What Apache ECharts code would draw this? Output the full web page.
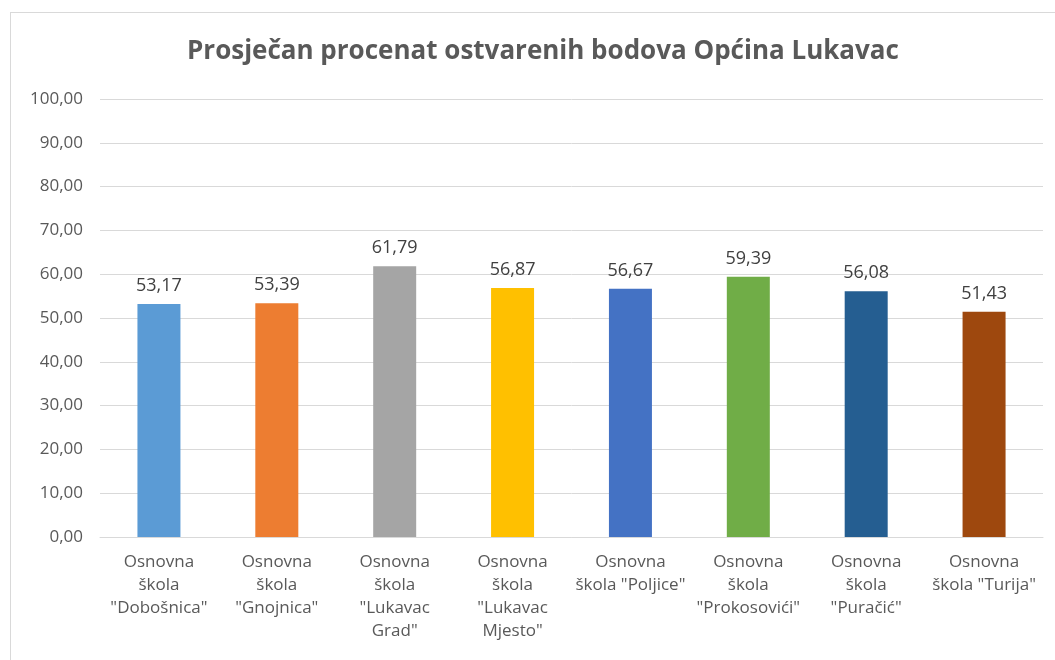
<!DOCTYPE html>
<html>
<head>
<meta charset="utf-8">
<script src="https://cdn.jsdelivr.net/npm/echarts@6/dist/echarts.min.js"></script>
<style>
  html, body { margin: 0; padding: 0; background: #fff; overflow: hidden; }
  #frame {
    position: absolute; left: 10px; top: 12px;
    width: 1200px; height: 800px;
    border: 1px solid #d9d9d9; box-sizing: border-box;
  }
  #chart { position: absolute; left: 0; top: 0; width: 1055px; height: 660px; }
</style>
</head>
<body>
<div id="frame"></div>
<div id="chart"></div>
<script>
// podaci
const schools = [
  'Osnovna\nškola\n"Dobošnica"',
  'Osnovna\nškola\n"Gnojnica"',
  'Osnovna\nškola\n"Lukavac\nGrad"',
  'Osnovna\nškola\n"Lukavac\nMjesto"',
  'Osnovna\nškola "Poljice"',
  'Osnovna\nškola\n"Prokosovići"',
  'Osnovna\nškola\n"Puračić"',
  'Osnovna\nškola "Turija"'
];
const scores = [53.17, 53.39, 61.79, 56.87, 56.67, 59.39, 56.08, 51.43];
const barColors = ['#5B9BD5', '#ED7D31', '#A5A5A5', '#FFC000', '#4472C4', '#70AD47', '#255E91', '#9E480E'];

const fmt = v => v.toFixed(2).replace('.', ',');

let myChart = echarts.init(document.getElementById('chart'));
let option = {
  textStyle: { fontFamily: '"Open Sans", sans-serif' },
  title: {
    text: 'Prosječan procenat ostvarenih bodova Općina Lukavac',
    left: 182,
    top: 34,
    textStyle: { fontSize: 26, fontWeight: 'bold', color: '#595959', fontFamily: '"Open Sans", sans-serif' }
  },
  grid: { left: 100, right: 12, top: 99, bottom: 123 },
  xAxis: {
    type: 'category',
    data: schools,
    axisTick: { show: false },
    axisLine: { lineStyle: { color: '#d9d9d9', width: 1 } },
    axisLabel: {
      interval: 0,
      margin: 14,
      color: '#595959',
      fontSize: 17,
      lineHeight: 23
    }
  },
  yAxis: {
    type: 'value',
    min: 0,
    max: 100,
    interval: 10,
    axisLine: { show: false },
    axisTick: { show: false },
    splitLine: { lineStyle: { color: '#d9d9d9' } },
    axisLabel: { color: '#595959', fontSize: 17, margin: 17, formatter: v => fmt(v) }
  },
  series: [{
    type: 'bar',
    barWidth: 43,
    data: scores.map((v, i) => ({ value: v, itemStyle: { color: barColors[i] } })),
    label: {
      show: true,
      position: 'top',
      distance: 9,
      color: '#404040',
      fontSize: 18,
      formatter: p => fmt(p.value)
    }
  }]
};
myChart.setOption(option);
</script>
</body>
</html>
